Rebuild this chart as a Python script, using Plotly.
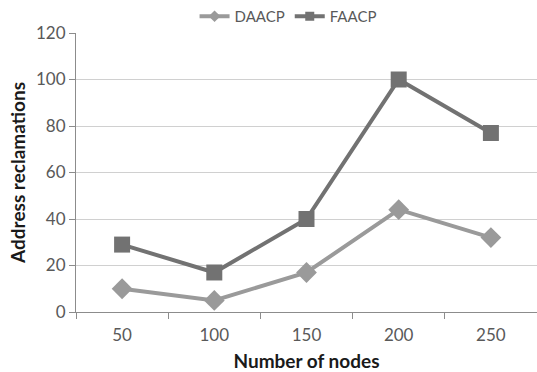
import plotly.graph_objects as go

nodes = ["50", "100", "150", "200", "250"]
daacp = [10, 5, 17, 44, 32]
faacp = [29, 17, 40, 100, 77]
y_ticks = [0, 20, 40, 60, 80, 100, 120]

FONT = "Lato, Open Sans, sans-serif"
C_D = "#9a9a9a"
C_F = "#727272"

fig = go.Figure()
fig.add_trace(go.Scatter(
    x=nodes, y=daacp, name="DAACP", mode="lines+markers", showlegend=False,
    line=dict(color=C_D, width=4),
    marker=dict(symbol="diamond", size=16, color=C_D),
))
fig.add_trace(go.Scatter(
    x=nodes, y=faacp, name="FAACP", mode="lines+markers", showlegend=False,
    line=dict(color=C_F, width=4),
    marker=dict(symbol="square", size=16, color=C_F),
))
# legend entries (smaller marker like the original legend)
fig.add_trace(go.Scatter(
    x=[None], y=[None], name="DAACP", mode="lines+markers",
    line=dict(color=C_D, width=4),
    marker=dict(symbol="diamond", size=9, color=C_D),
))
fig.add_trace(go.Scatter(
    x=[None], y=[None], name="FAACP", mode="lines+markers",
    line=dict(color=C_F, width=4),
    marker=dict(symbol="square", size=9, color=C_F),
))

fig.update_layout(
    width=537, height=372,
    margin=dict(l=76, r=0, t=29, b=60),
    paper_bgcolor="white", plot_bgcolor="white",
    font=dict(family=FONT, color="#595959", size=16),
    showlegend=True,
    legend=dict(orientation="h", x=0.46, xanchor="center", y=1.0, yanchor="bottom",
                font=dict(size=15, color="#595959"),
                bgcolor="rgba(0,0,0,0)"),
    xaxis=dict(
        type="category", range=[-0.5, 4.5],
        showline=True, linecolor="#8c8c8c", linewidth=1,
        ticks="outside", tickson="boundaries", ticklen=6, tickcolor="#8c8c8c",
        ticklabelstandoff=8,
        showgrid=False, zeroline=False,
        tickfont=dict(size=17, color="#595959"),
        title=dict(text="<b>Number of nodes</b>", font=dict(size=19, color="#1a1a1a"), standoff=13),
    ),
    yaxis=dict(
        range=[0, 120], tickvals=y_ticks,
        showline=True, linecolor="#8c8c8c", linewidth=1,
        ticks="outside", ticklen=6, tickcolor="#8c8c8c",
        showgrid=True, gridcolor="#d0d0d0", gridwidth=1,
        zeroline=False,
        tickfont=dict(size=17, color="#595959"),
        title=dict(text="<b>Address reclamations</b>", font=dict(size=19, color="#1a1a1a"), standoff=5),
    ),
)

fig.write_html("out.html")
